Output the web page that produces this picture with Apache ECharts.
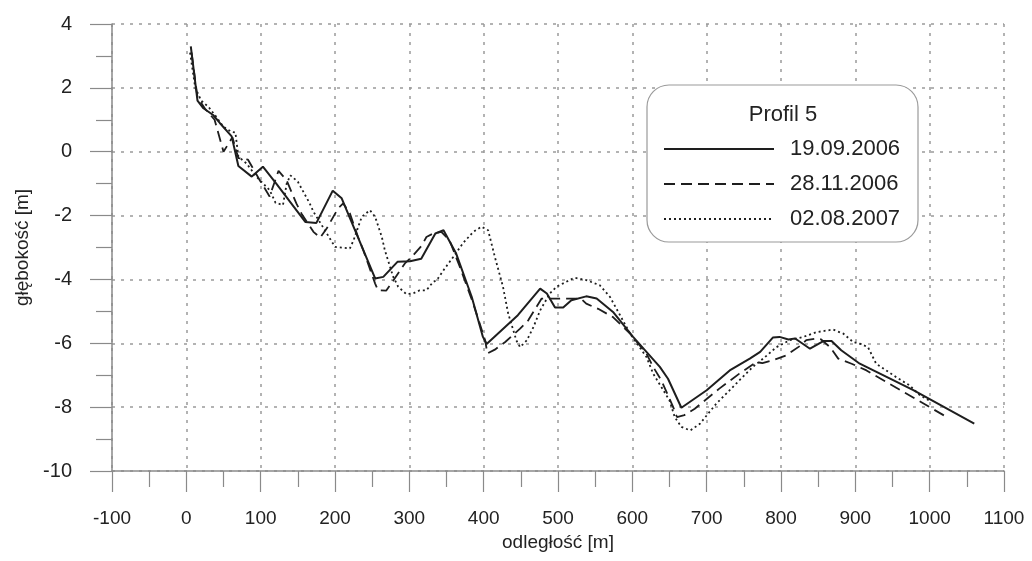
<!DOCTYPE html>
<html>
<head>
<meta charset="utf-8">
<script src="https://cdn.jsdelivr.net/npm/echarts@6/dist/echarts.min.js"></script>
<style>html,body{margin:0;padding:0;background:#fff}#c{width:1032px;height:561px}</style>
</head>
<body>
<div id="c"></div>
<script>
const seriesNames = ['19.09.2006', '28.11.2006', '02.08.2007'];
const legendTitle = 'Profil 5';
const xAxisName = 'odległość [m]';
const yAxisName = 'głębokość [m]';

const profile20060919 = [
  [6,3.3],[15,1.6],[23,1.36],[36,1.15],[45,0.9],[61,0.48],[63,0.42],[70,-0.45],[88,-0.78],
  [103,-0.47],[121,-1.0],[160,-2.2],[175,-2.23],[197,-1.22],[209,-1.46],[254,-3.97],[265,-3.92],
  [284,-3.45],[301,-3.43],[316,-3.35],[335,-2.56],[346,-2.46],[363,-3.19],[384,-4.55],[399,-5.8],
  [404,-6.02],[446,-5.12],[476,-4.29],[485,-4.44],[496,-4.88],[507,-4.88],[518,-4.65],[538,-4.53],
  [552,-4.6],[574,-5.02],[601,-5.8],[637,-6.74],[648,-7.11],[666,-8.02],[700,-7.47],[731,-6.85],
  [758,-6.48],[772,-6.27],[789,-5.82],[798,-5.8],[810,-5.88],[819,-5.85],[839,-6.17],[857,-5.93],
  [868,-5.93],[881,-6.22],[906,-6.64],[978,-7.47],[1060,-8.52]
];
const profile20061128 = [
  [7,3.1],[15,1.7],[25,1.35],[38,1.0],[50,0.0],[62,0.45],[70,-0.2],[83,-0.25],[99,-0.9],[112,-1.4],
  [124,-0.6],[135,-0.9],[148,-1.62],[155,-1.94],[171,-2.51],[180,-2.69],[189,-2.4],[204,-1.78],
  [211,-1.62],[220,-1.93],[231,-2.67],[238,-3.08],[254,-4.13],[258,-4.34],[269,-4.35],[278,-4.05],
  [294,-3.5],[303,-3.3],[317,-2.93],[323,-2.67],[332,-2.56],[343,-2.51],[354,-2.77],[368,-3.61],
  [386,-4.76],[402,-5.91],[405,-6.32],[415,-6.2],[429,-5.96],[449,-5.54],[460,-5.28],[471,-4.86],
  [478,-4.6],[531,-4.6],[538,-4.76],[554,-4.92],[574,-5.18],[597,-5.7],[619,-6.32],[628,-6.74],
  [639,-7.16],[655,-8.0],[660,-8.31],[670,-8.25],[684,-8.05],[695,-7.84],[717,-7.42],[744,-6.95],
  [767,-6.59],[775,-6.62],[789,-6.53],[807,-6.38],[827,-6.06],[834,-5.9],[848,-5.85],[854,-5.88],
  [866,-6.12],[877,-6.48],[895,-6.64],[915,-6.85],[1020,-8.27]
];
const profile20070802 = [
  [5,3.1],[12,2.0],[20,1.6],[30,1.4],[40,1.1],[50,0.78],[61,0.62],[66,0.6],[70,-0.15],[81,-0.37],
  [95,-0.8],[112,-1.2],[120,-1.6],[130,-1.67],[135,-1.0],[140,-0.74],[150,-0.94],[166,-1.62],
  [171,-1.88],[189,-2.56],[200,-2.98],[220,-3.03],[225,-2.77],[236,-2.04],[247,-1.83],[254,-2.04],
  [263,-2.67],[267,-3.08],[278,-3.9],[285,-4.23],[296,-4.46],[305,-4.44],[314,-4.34],[323,-4.34],
  [332,-4.08],[337,-4.02],[346,-3.71],[359,-3.3],[372,-2.87],[386,-2.51],[397,-2.35],[406,-2.46],
  [415,-3.29],[426,-4.23],[433,-5.07],[444,-5.91],[449,-6.12],[458,-5.91],[467,-5.49],[476,-4.97],
  [489,-4.44],[498,-4.23],[520,-3.97],[523,-3.95],[538,-4.02],[556,-4.18],[570,-4.55],[583,-5.1],
  [597,-5.7],[619,-6.43],[628,-6.95],[650,-7.79],[657,-8.31],[666,-8.62],[678,-8.73],[691,-8.52],
  [700,-8.26],[713,-7.89],[731,-7.47],[744,-7.16],[762,-6.74],[776,-6.48],[794,-6.12],[812,-5.9],
  [830,-5.8],[848,-5.65],[870,-5.57],[884,-5.7],[897,-5.96],[906,-6.01],[917,-6.12],[928,-6.64],
  [955,-7.06],[973,-7.32],[987,-7.63],[1000,-7.8]
];
const xTicks = {min: -100, max: 1100, interval: 100};
const yTicks = {min: -10, max: 4, interval: 2};

const FONT = 'Liberation Sans, Arial, sans-serif';
const LINE = '#1e1e1e';
const chart = echarts.init(document.getElementById('c'), null, {renderer: 'canvas'});

const mk = (name, data, type, width) => ({
  name, type: 'line', data, symbol: 'none', showSymbol: false, animation: false, z: 5,
  lineStyle: {color: LINE, width, type}, itemStyle: {color: LINE}
});

chart.setOption({
  backgroundColor: '#fff',
  animation: false,
  grid: {left: 112, right: 28, top: 24, bottom: 90, containLabel: false},
  xAxis: {
    type: 'value', min: xTicks.min, max: xTicks.max, interval: xTicks.interval,
    name: xAxisName, nameLocation: 'middle', nameGap: 62,
    nameTextStyle: {fontFamily: FONT, fontSize: 19, color: '#222'},
    axisLine: {show: true, onZero: false, lineStyle: {color: '#8a8a8a', width: 1.5}},
    axisTick: {show: true, length: 21, lineStyle: {color: '#8a8a8a', width: 1.2}},
    minorTick: {show: true, splitNumber: 2, length: 16, lineStyle: {color: '#8a8a8a', width: 1.2}},
    axisLabel: {margin: 38, fontFamily: FONT, fontSize: 19, color: '#222', formatter: v => String(v)},
    splitLine: {show: true, lineStyle: {color: '#9a9a9a', width: 1.5, type: [3, 6]}}
  },
  yAxis: {
    type: 'value', min: yTicks.min, max: yTicks.max, interval: yTicks.interval,
    name: yAxisName, nameLocation: 'middle', nameGap: 78, nameRotate: 90,
    nameTextStyle: {fontFamily: FONT, fontSize: 19, color: '#222'},
    axisLine: {show: true, onZero: false, lineStyle: {color: '#8a8a8a', width: 1.5}},
    axisTick: {show: true, length: 22, lineStyle: {color: '#8a8a8a', width: 1.2}},
    minorTick: {show: true, splitNumber: 2, length: 16, lineStyle: {color: '#8a8a8a', width: 1.2}},
    axisLabel: {margin: 40, fontFamily: FONT, fontSize: 20, color: '#222', formatter: v => String(v)},
    splitLine: {show: true, lineStyle: {color: '#9a9a9a', width: 1.5, type: [3, 6]}}
  },
  legend: {
    show: true, orient: 'vertical', left: 663, top: 138, z: 30, padding: 0,
    itemWidth: 110, itemHeight: 20, itemGap: 13,
    data: seriesNames,
    itemStyle: {color: 'transparent', borderWidth: 0, opacity: 0},
    textStyle: {fontFamily: FONT, fontSize: 22, color: '#222', padding: [0, 0, 0, 11]}
  },
  graphic: [
    {type: 'rect', z: 20, shape: {x: 647, y: 85, width: 271, height: 157, r: 22},
     style: {fill: '#fff', stroke: '#9a9a9a', lineWidth: 1.2}},
    {type: 'text', z: 31, x: 783, y: 115,
     style: {text: legendTitle, fontFamily: FONT, fontSize: 22, fill: '#222', textAlign: 'center', textVerticalAlign: 'middle'}}
  ],
  series: [
    mk(seriesNames[0], profile20060919, 'solid', 2),
    mk(seriesNames[1], profile20061128, [11, 6], 1.8),
    mk(seriesNames[2], profile20070802, [2, 3], 1.8)
  ]
});
</script>
</body>
</html>
